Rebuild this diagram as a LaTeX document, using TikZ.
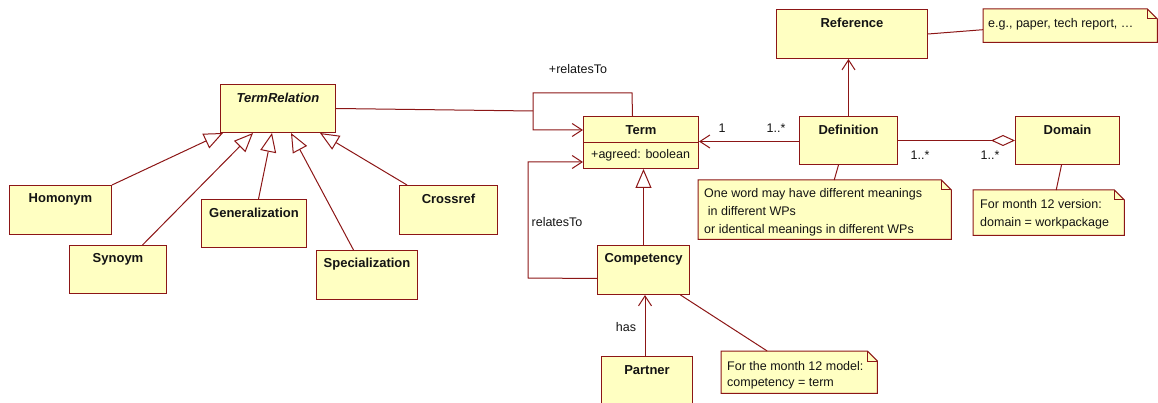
\documentclass[tikz,border=0pt]{standalone}
\usepackage{fontspec}
\setmainfont{Liberation Sans}
\usetikzlibrary{arrows.meta}
\definecolor{umlfill}{RGB}{255,255,194}
\definecolor{umlline}{RGB}{140,22,22}
\definecolor{umltext}{RGB}{20,20,20}
\tikzset{
  cls/.style={draw=umlline, fill=umlfill, line width=1pt, inner sep=0pt, anchor=north west, text=umltext},
  notebox/.style={draw=none, inner sep=0pt, anchor=north west},
  notetext/.style={anchor=north west, align=left, inner sep=0pt, text=umltext, font=\fontsize{12.5}{18}\selectfont},
  lbl/.style={text=umltext, font=\fontsize{12.5}{15}\selectfont, inner sep=0pt},
  title/.style={font=\fontsize{13}{15}\selectfont\bfseries, text=umltext, anchor=center, yshift=-14pt},
  conn/.style={draw=umlline, line width=1pt},
  nav/.style={conn, -{Straight Barb[length=10pt,width=13pt,line width=1pt]}},
  gen/.style={conn, -{Triangle[open,length=19pt,width=16pt,line width=1pt,fill=white]}},
  agg/.style={conn, -{Diamond[open,length=24pt,width=11pt,line width=1pt,fill=white]}},
  noteline/.style={draw=umlline, fill=umlfill, line width=1pt},
}
\newcommand\drawnote[1]{%
  \draw[noteline] (#1.north west) -- ([xshift=-10pt]#1.north east) -- ([yshift=-10pt]#1.north east) -- (#1.south east) -- (#1.south west) -- cycle;
  \draw[noteline, fill=none] ([xshift=-10pt]#1.north east) -- ([xshift=-10pt,yshift=-10pt]#1.north east) -- ([yshift=-10pt]#1.north east);}
\begin{document}
\begin{tikzpicture}[x=1pt,y=-1pt]
\useasboundingbox (0,0) rectangle (1158,403);
% classes
\node[cls, minimum width=115, minimum height=48, label={[title, font=\fontsize{13}{15}\selectfont\bfseries\itshape]north:TermRelation}] (TermRelation) at (220,84) {};
\node[cls, minimum width=102, minimum height=49, label={[title]north:Homonym}] (Homonym) at (9,185) {};
\node[cls, minimum width=97, minimum height=48, label={[title]north:Synoym}] (Synoym) at (69,245) {};
\node[cls, minimum width=105, minimum height=48, label={[title]north:Generalization}] (Generalization) at (201,199) {};
\node[cls, minimum width=101, minimum height=49, label={[title]north:Specialization}] (Specialization) at (316,250) {};
\node[cls, minimum width=98, minimum height=49, label={[title]north:Crossref}] (Crossref) at (399,185) {};
\node[cls, minimum width=115, minimum height=52, label={[title]north:Term}] (Term) at (583,116) {};
\draw[conn] (Term.west) -- (Term.east);
\node[lbl, anchor=west] (TermAttr) at ([xshift=8pt,yshift=-13pt]Term.west) {+agreed: boolean};
\node[cls, minimum width=92, minimum height=49, label={[title]north:Competency}] (Competency) at (597,245) {};
\node[cls, minimum width=91, minimum height=60, label={[title]north:Partner}] (Partner) at (601,356) {};
\node[cls, minimum width=151, minimum height=49, label={[title]north:Reference}] (Reference) at (776,9) {};
\node[cls, minimum width=98, minimum height=48, label={[title]north:Definition}] (Definition) at (799,116) {};
\node[cls, minimum width=104, minimum height=48, label={[title]north:Domain}] (Domain) at (1015,116) {};
% notes
\node[notebox, minimum width=174, minimum height=33] (egnote) at (983,9) {};
\drawnote{egnote}
\node[notetext] (egtext) at ([xshift=5pt,yshift=-9pt]egnote.north west) {e.g., paper, tech report, \dots};
\node[notebox, minimum width=253, minimum height=59] (defnote) at (698,180) {};
\drawnote{defnote}
\node[notetext] (deftext) at ([xshift=6pt,yshift=-8.5pt]defnote.north west) {One word may have different meanings\\\hspace{0.3em}in different WPs\\or identical meanings in different WPs};
\node[notebox, minimum width=151, minimum height=45] (domnote) at (973,190) {};
\drawnote{domnote}
\node[notetext] (domtext) at ([xshift=7pt,yshift=-9pt]domnote.north west) {For month 12 version:\\domain = workpackage};
\node[notebox, minimum width=156, minimum height=42] (compnote) at (721,351) {};
\drawnote{compnote}
\node[notetext, font=\fontsize{12.5}{16.5}\selectfont] (comptext) at ([xshift=6pt,yshift=-10pt]compnote.north west) {For the month 12 model:\\competency = term};
% loop coordinates
\coordinate (lpA) at (632,93);
\coordinate (lpB) at (533,93);
\coordinate (lpC) at (533,130);
\coordinate (lpM) at (533,111);
\coordinate (cA) at (528,278);
\coordinate (cB) at (528,162);
% connectors
\draw[nav] ([xshift=-8.5pt]Term.north) -- (lpA) -- (lpB) -- (lpC) -- (lpC -| Term.west);
\draw[conn] (TermRelation.east) -- (lpM);
\node[lbl] (relTo1) at (578,69) {+relatesTo};
\draw[nav] ([yshift=-8.5pt]Competency.west) -- (cA) -- (cB) -- (cB -| Term.west);
\node[lbl] (relTo2) at (557,222) {relatesTo};
\draw[gen] (Competency.north) -- (Competency.north |- Term.south);
\draw[nav] ([xshift=-2pt]Partner.north) -- ([xshift=-2pt]Partner.north |- Competency.south);
\node[lbl] (hasLbl) at (626,327) {has};
\draw[nav] ([yshift=-1pt]Definition.west) -- ([yshift=-1pt]Definition.west -| Term.east);
\node[lbl] (m1) at (722,128) {1};
\node[lbl] (m2) at (776,128) {1..*};
\draw[nav] (Definition.north) -- (Definition.north |- Reference.south);
\draw[agg] (Definition.east) -- (Domain.west);
\node[lbl] (m3) at (920,155) {1..*};
\node[lbl] (m4) at (990,155) {1..*};
\draw[conn] (Reference.east) -- ([yshift=-4pt]egnote.west);
\draw[conn] ([xshift=-10pt]Definition.south) -- ([xshift=9.5pt]defnote.north);
\draw[conn] ([xshift=-6pt]Domain.south) -- ([xshift=7.5pt]domnote.north);
\draw[conn] ([xshift=37pt]Competency.south) -- ([xshift=-32pt]compnote.north);
% generalizations
\draw[gen] (Homonym.north east) -- ([xshift=3pt]TermRelation.south west);
\draw[gen] ([xshift=24.5pt]Synoym.north) -- ([xshift=33pt]TermRelation.south west);
\draw[gen] ([xshift=4.5pt]Generalization.north) -- ([xshift=52pt]TermRelation.south west);
\draw[gen] ([xshift=-13.5pt]Specialization.north) -- ([xshift=71pt]TermRelation.south west);
\draw[gen] ([xshift=8pt]Crossref.north west) -- ([xshift=100pt]TermRelation.south west);
\end{tikzpicture}
\end{document}
